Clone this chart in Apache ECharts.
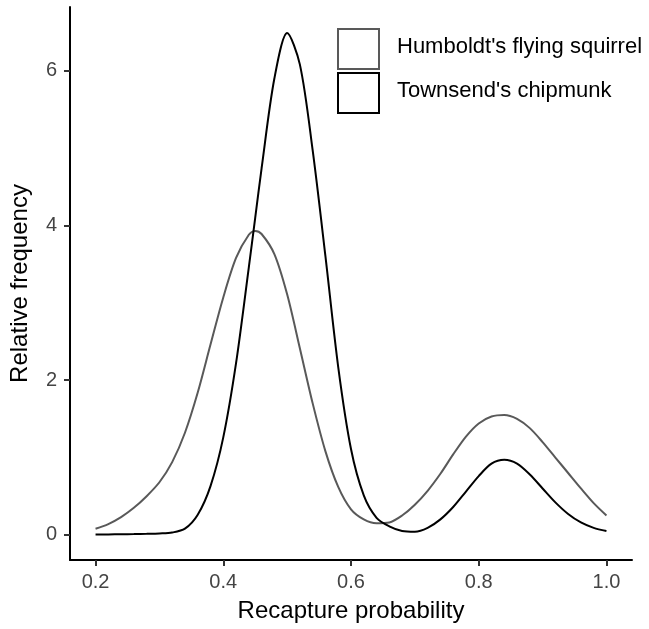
<!DOCTYPE html>
<html>
<head>
<meta charset="utf-8">
<script src="https://cdn.jsdelivr.net/npm/echarts@6/dist/echarts.min.js"></script>
<style>
html,body{margin:0;padding:0;background:#fff;}
#chart{width:649px;height:629px;}
</style>
</head>
<body>
<div id="chart"></div>
<script>
// Data
var xValues = [0.20,0.22,0.24,0.26,0.28,0.30,0.32,0.34,0.36,0.38,0.40,0.42,0.44,0.45,0.46,0.48,0.50,0.52,0.54,0.56,0.58,0.60,0.62,0.64,0.66,0.68,0.70,0.72,0.74,0.76,0.78,0.80,0.82,0.84,0.86,0.88,0.90,0.92,0.94,0.96,0.98,1.00];
var humboldt = [0.08,0.14,0.23,0.35,0.50,0.68,0.94,1.32,1.84,2.46,3.07,3.58,3.88,3.93,3.89,3.63,3.11,2.41,1.70,1.08,0.62,0.33,0.20,0.15,0.16,0.25,0.39,0.57,0.79,1.04,1.27,1.44,1.53,1.55,1.50,1.38,1.20,1.00,0.80,0.60,0.41,0.25];
var townsend = [0.005,0.006,0.008,0.010,0.013,0.018,0.03,0.08,0.26,0.63,1.26,2.22,3.46,4.10,4.74,5.90,6.49,6.08,4.97,3.60,2.17,1.11,0.51,0.22,0.11,0.05,0.04,0.09,0.20,0.36,0.56,0.76,0.92,0.97,0.92,0.78,0.60,0.42,0.27,0.16,0.09,0.05];
var xTicks = [0.2,0.4,0.6,0.8,1.0];
var yTicks = [0,2,4,6];
var seriesNames = ["Humboldt's flying squirrel","Townsend's chipmunk"];
var seriesColors = ['#595959','#000000'];

function pairs(xs, ys){ return xs.map(function(x,i){ return [x, ys[i]]; }); }

var FONT = 'Liberation Sans, Arial, Helvetica, sans-serif';
var chart = echarts.init(document.getElementById('chart'), null, {renderer:'canvas'});

var option = {
  animation:false,
  backgroundColor:'#ffffff',
  grid:{left:70, right:17, top:7, bottom:69, containLabel:false, outerBoundsMode:'none'},
  xAxis:{
    type:'value', min:0.16, max:1.04,
    name:'Recapture probability', nameLocation:'middle', nameGap:39,
    nameTextStyle:{fontFamily:FONT, fontSize:24, color:'#000'},
    axisLine:{show:true, onZero:false, lineStyle:{color:'#000', width:2}},
    axisTick:{show:true, length:6, customValues:xTicks, lineStyle:{color:'#333', width:2}},
    axisLabel:{customValues:xTicks, margin:12, fontFamily:FONT, fontSize:20, color:'#444',
      formatter:function(v){ return v.toFixed(1); }},
    splitLine:{show:false}
  },
  yAxis:{
    type:'value', min:-0.325, max:6.825,
    name:'Relative frequency', nameLocation:'middle', nameGap:38,
    nameTextStyle:{fontFamily:FONT, fontSize:24, color:'#000'},
    axisLine:{show:true, onZero:false, lineStyle:{color:'#000', width:2}},
    axisTick:{show:true, length:6, customValues:yTicks, lineStyle:{color:'#333', width:2}},
    axisLabel:{customValues:yTicks, margin:13, fontFamily:FONT, fontSize:20, color:'#444',
      formatter:function(v){ return String(Math.round(v)); }},
    splitLine:{show:false}
  },
  series:[
    {name:seriesNames[0], type:'line', data:pairs(xValues, humboldt), smooth:0.3, showSymbol:false, symbol:'none',
     lineStyle:{color:seriesColors[0], width:2}, itemStyle:{color:seriesColors[0]}, z:2},
    {name:seriesNames[1], type:'line', data:pairs(xValues, townsend), smooth:0.3, showSymbol:false, symbol:'none',
     lineStyle:{color:seriesColors[1], width:2}, itemStyle:{color:seriesColors[1]}, z:3}
  ],
  graphic:[
    {type:'rect', left:337, top:28, shape:{width:41, height:40}, style:{fill:'#fff', stroke:seriesColors[0], lineWidth:2}},
    {type:'rect', left:337, top:72, shape:{width:41, height:40}, style:{fill:'#fff', stroke:seriesColors[1], lineWidth:2}},
    {type:'text', left:397, top:36, style:{text:seriesNames[0], font:'22px '+FONT, fill:'#000'}},
    {type:'text', left:397, top:80, style:{text:seriesNames[1], font:'22px '+FONT, fill:'#000'}}
  ]
};
chart.setOption(option);
</script>
</body>
</html>
